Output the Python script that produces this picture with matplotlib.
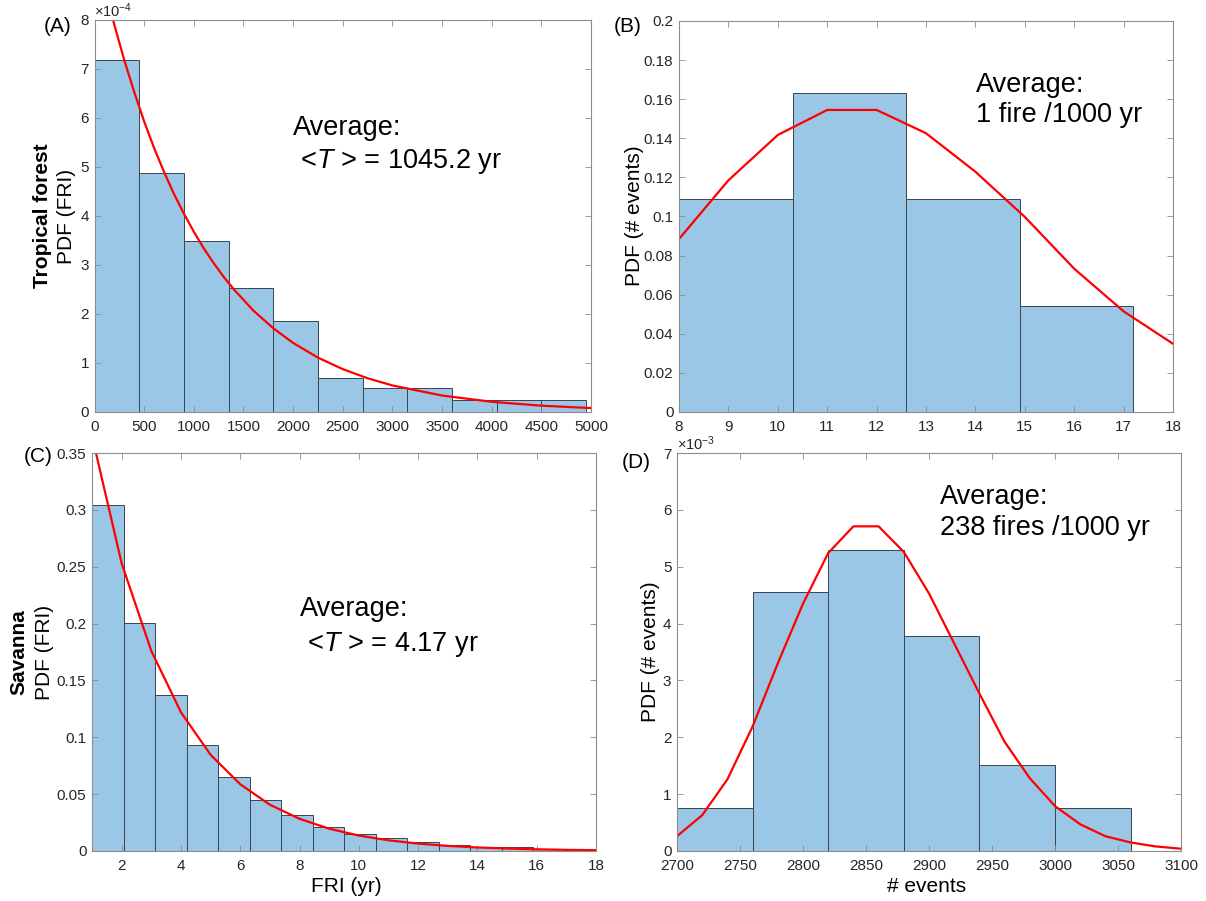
import numpy as np
import matplotlib
matplotlib.use("Agg")
import matplotlib.pyplot as plt
from matplotlib.ticker import FormatStrFormatter

plt.rcParams['font.family'] = ['Liberation Sans', 'DejaVu Sans']
plt.rcParams['mathtext.fontset'] = 'custom'
plt.rcParams['mathtext.rm'] = 'Liberation Sans'
plt.rcParams['mathtext.it'] = 'Liberation Sans:italic'

# (A) tropical forest, fire return interval, PDF in units of 1e-4
a_edges = [0, 450, 900, 1350, 1800, 2250, 2700, 3150, 3600, 4050, 4500, 4950]
a_pdf = [7.18, 4.87, 3.48, 2.54, 1.86, 0.70, 0.48, 0.48, 0.24, 0.24, 0.24]
a_fit_x = [0, 100, 200, 300, 400, 500, 600, 700, 800, 900, 1000, 1100, 1200, 1300,
           1400, 1600, 1800, 2000, 2250, 2500, 2750, 3000, 3500, 4000, 4500, 5000]
a_fit_y = [9.57, 8.70, 7.90, 7.18, 6.53, 5.93, 5.39, 4.90, 4.45, 4.05, 3.68, 3.34,
           3.04, 2.76, 2.51, 2.07, 1.71, 1.41, 1.11, 0.875, 0.689, 0.542, 0.336,
           0.208, 0.129, 0.080]

# (B) tropical forest, number of events
b_edges = [8, 10.3, 12.6, 14.9, 17.2]
b_pdf = [0.1087, 0.1630, 0.1087, 0.0543]
b_fit_x = [8, 9, 10, 11, 12, 13, 14, 15, 16, 17, 18]
b_fit_y = [0.0885, 0.1185, 0.1417, 0.1545, 0.1545, 0.1426, 0.1229, 0.0998, 0.0733, 0.0515, 0.0349]

# (C) savanna, fire return interval
c_edges = [1, 2.0625, 3.125, 4.1875, 5.25, 6.3125, 7.375, 8.4375, 9.5, 10.5625,
           11.625, 12.6875, 13.75, 14.8125, 15.875, 16.9375, 18]
c_pdf = [0.3046, 0.2009, 0.1368, 0.0931, 0.0647, 0.0451, 0.0313, 0.0214, 0.0146,
         0.0111, 0.0076, 0.0050, 0.0038, 0.0032, 0.0015, 0.0008]
c_fit_x = [1, 2, 3, 4, 5, 6, 7, 8, 9, 10, 11, 12, 13, 14, 15, 16, 17, 18]
c_fit_y = [0.365, 0.253, 0.176, 0.122, 0.0846, 0.0587, 0.0407, 0.0283, 0.0196, 0.0136,
           0.0094, 0.0065, 0.0045, 0.0031, 0.0022, 0.0015, 0.0010, 0.0007]

# (D) savanna, number of events, PDF in units of 1e-3
d_edges = [2700, 2760, 2820, 2880, 2940, 3000, 3060]
d_pdf = [0.76, 4.55, 5.30, 3.79, 1.52, 0.76]
d_fit_x = [2700, 2720, 2740, 2760, 2780, 2800, 2820, 2840, 2860, 2880, 2900,
           2920, 2940, 2960, 2980, 3000, 3020, 3040, 3060, 3080, 3100]
d_fit_y = [0.26, 0.63, 1.26, 2.19, 3.30, 4.35, 5.24, 5.71, 5.71, 5.26, 4.53,
           3.65, 2.77, 1.92, 1.28, 0.79, 0.47, 0.26, 0.15, 0.08, 0.04]

W, H = 1206, 901
fig = plt.figure(figsize=(W / 100, H / 100), dpi=100)

def box(l, t, r, b):
    return [l / W, 1 - b / H, (r - l) / W, (b - t) / H]

face = '#9bc7e6'
edge = '#3a4450'
gray = '#8c8c8c'
tcol = '#262626'

def panel(rect, edges, pdf, fx, fy, xlim, ylim, xticks, yticks, fmt):
    ax = fig.add_axes(rect)
    e = np.array(edges)
    ax.bar(e[:-1], pdf, width=np.diff(e), align='edge', color=face,
           edgecolor=edge, linewidth=0.7)
    ax.plot(fx, fy, color='red', lw=1.6, clip_on=True)
    ax.set_xlim(xlim)
    ax.set_ylim(ylim)
    ax.set_xticks(xticks)
    ax.set_yticks(yticks)
    ax.yaxis.set_major_formatter(FormatStrFormatter(fmt))
    ax.tick_params(direction='in', top=True, right=True, length=4, width=0.6,
                   color=gray, labelcolor=tcol, labelsize=11, pad=4)
    ax.tick_params(axis='x', pad=6)
    for s in ax.spines.values():
        s.set_color(gray)
        s.set_linewidth(0.8)
    return ax

axA = panel(box(94.5, 20, 591, 412), a_edges, a_pdf, a_fit_x, a_fit_y,
            (0, 5000), (0, 8), np.arange(0, 5001, 500), np.arange(0, 9, 1), '%g')
axB = panel(box(679, 21, 1173, 412), b_edges, b_pdf, b_fit_x, b_fit_y,
            (8, 18), (0, 0.2), np.arange(8, 19, 1), np.arange(0, 0.201, 0.02), '%g')
axC = panel(box(92, 453, 596, 851), c_edges, c_pdf, c_fit_x, c_fit_y,
            (1, 18), (0, 0.35), np.arange(2, 19, 2), np.arange(0, 0.351, 0.05), '%g')
axD = panel(box(677, 453, 1181, 851), d_edges, d_pdf, d_fit_x, d_fit_y,
            (2700, 3100), (0, 7), np.arange(2700, 3101, 50), np.arange(0, 8, 1), '%g')

axA.text(0.0, 1.0, r'$\times10^{-4}$', transform=axA.transAxes, fontsize=10.5,
         color=tcol, ha='left', va='bottom')
axD.text(0.0, 1.0, r'$\times10^{-3}$', transform=axD.transAxes, fontsize=10.5,
         color=tcol, ha='left', va='bottom')

# annotations
big = 19.5
axA.text(0.40, 0.724, 'Average:', transform=axA.transAxes, fontsize=big, va='center')
axA.text(0.40, 0.638, r' <$T$ > = 1045.2 yr', transform=axA.transAxes, fontsize=big, va='center')
axB.text(0.601, 0.836, 'Average:', transform=axB.transAxes, fontsize=big, va='center')
axB.text(0.601, 0.76, '1 fire /1000 yr', transform=axB.transAxes, fontsize=big, va='center')
axC.text(0.413, 0.608, 'Average:', transform=axC.transAxes, fontsize=big, va='center')
axC.text(0.413, 0.518, r' <$T$ > = 4.17 yr', transform=axC.transAxes, fontsize=big, va='center')
axD.text(0.522, 0.889, 'Average:', transform=axD.transAxes, fontsize=big, va='center')
axD.text(0.522, 0.811, '238 fires /1000 yr', transform=axD.transAxes, fontsize=big, va='center')

# panel letters
for s, x, y in [('(A)', 58, 27), ('(B)', 628, 27), ('(C)', 38, 457), ('(D)', 636, 462)]:
    fig.text(x / W, 1 - y / H, s, fontsize=15, ha='center', va='center')

# axis labels
lab = 15
fig.text(42 / W, 1 - 216 / H, 'Tropical forest', rotation=90, fontsize=lab,
         fontweight='bold', ha='center', va='center')
fig.text(67 / W, 1 - 216 / H, 'PDF (FRI)', rotation=90, fontsize=lab, ha='center', va='center')
fig.text(19 / W, 1 - 652 / H, 'Savanna', rotation=90, fontsize=lab,
         fontweight='bold', ha='center', va='center')
fig.text(45 / W, 1 - 652 / H, 'PDF (FRI)', rotation=90, fontsize=lab, ha='center', va='center')
fig.text(634 / W, 1 - 216 / H, 'PDF (# events)', rotation=90, fontsize=lab, ha='center', va='center')
fig.text(650 / W, 1 - 652 / H, 'PDF (# events)', rotation=90, fontsize=lab, ha='center', va='center')
fig.text(346 / W, 1 - 886 / H, 'FRI (yr)', fontsize=lab, ha='center', va='center')
fig.text(927 / W, 1 - 886 / H, '# events', fontsize=lab, ha='center', va='center')

fig.savefig('out.png', dpi=100)
